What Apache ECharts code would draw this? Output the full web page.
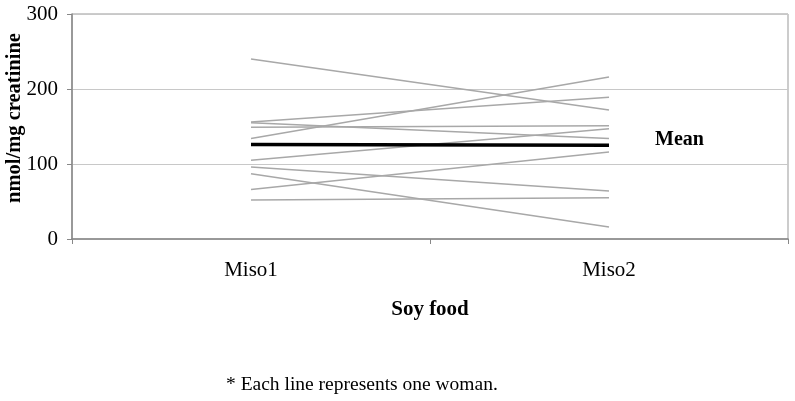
<!DOCTYPE html>
<html>
<head>
<meta charset="utf-8">
<script src="https://cdn.jsdelivr.net/npm/echarts@6/dist/echarts.min.js"></script>
<style>
  html, body { margin: 0; padding: 0; background: #fff; }
  #chart { width: 795px; height: 401px; }
</style>
</head>
<body>
<div id="chart"></div>
<script>
var categories = ["Miso1", "Miso2"];
// one pair per woman: value at Miso1, value at Miso2
var miso1 = [240, 134, 156, 155, 149, 105, 66, 96, 87, 52];
var miso2 = [172, 216, 189, 134, 151, 147, 116, 64, 16, 55];
var meanVals = [126, 125];

var serif = "Liberation Serif, Times New Roman, serif";
var chart = echarts.init(document.getElementById("chart"));

var series = [];
for (var i = 0; i < miso1.length; i++) {
  series.push({
    name: "woman" + (i + 1),
    type: "line",
    data: [miso1[i], miso2[i]],
    symbol: "none",
    silent: true,
    lineStyle: { color: "#a8a8a8", width: 1.5 },
  });
}
series.push({
  name: "Mean",
  type: "line",
  data: meanVals,
  symbol: "none",
  z: 5,
  lineStyle: { color: "#000", width: 3.5 },
  endLabel: {
    show: true,
    formatter: "Mean",
    distance: 46,
    offset: [0, -5],
    color: "#000",
    fontFamily: serif,
    fontWeight: "bold",
    fontSize: 20,
  },
});

var option = {
  animation: false,
  title: {
    text: "* Each line represents one woman.",
    left: 221,
    top: 370,
    textStyle: { fontFamily: serif, fontWeight: "normal", fontSize: 19.5, color: "#000" },
  },
  // y axis title, drawn as plain rotated text
  graphic: [
    {
      type: "text",
      x: 15,
      y: 118,
      rotation: Math.PI / 2,
      style: {
        text: "nmol/mg creatinine",
        align: "center",
        verticalAlign: "middle",
        fill: "#000",
        font: "bold 20.5px " + serif,
      },
    },
  ],
  grid: {
    left: 72,
    right: 7,
    top: 14,
    bottom: 162,
    outerBoundsMode: "none",
    containLabel: false,
    show: true,
    borderColor: "#999",
    borderWidth: 1,
  },
  xAxis: {
    type: "category",
    data: categories,
    boundaryGap: true,
    name: "Soy food",
    nameLocation: "middle",
    nameGap: 60,
    nameTextStyle: { fontFamily: serif, fontWeight: "bold", fontSize: 21, color: "#000" },
    axisLine: { lineStyle: { color: "#888", width: 1.5 } },
    axisTick: { show: true, length: 5, inside: false, lineStyle: { color: "#888" } },
    axisLabel: { fontFamily: serif, fontSize: 21, color: "#000", margin: 21 },
  },
  yAxis: {
    type: "value",
    min: 0,
    max: 300,
    interval: 100,
    axisLine: { show: true, lineStyle: { color: "#888", width: 1.5 } },
    axisTick: { show: true, length: 5, lineStyle: { color: "#888" } },
    axisLabel: { fontFamily: serif, fontSize: 21, color: "#000", margin: 14 },
    splitLine: { lineStyle: { color: "#c8c8c8", width: 1 } },
  },
  series: series,
};
chart.setOption(option);
</script>
</body>
</html>
